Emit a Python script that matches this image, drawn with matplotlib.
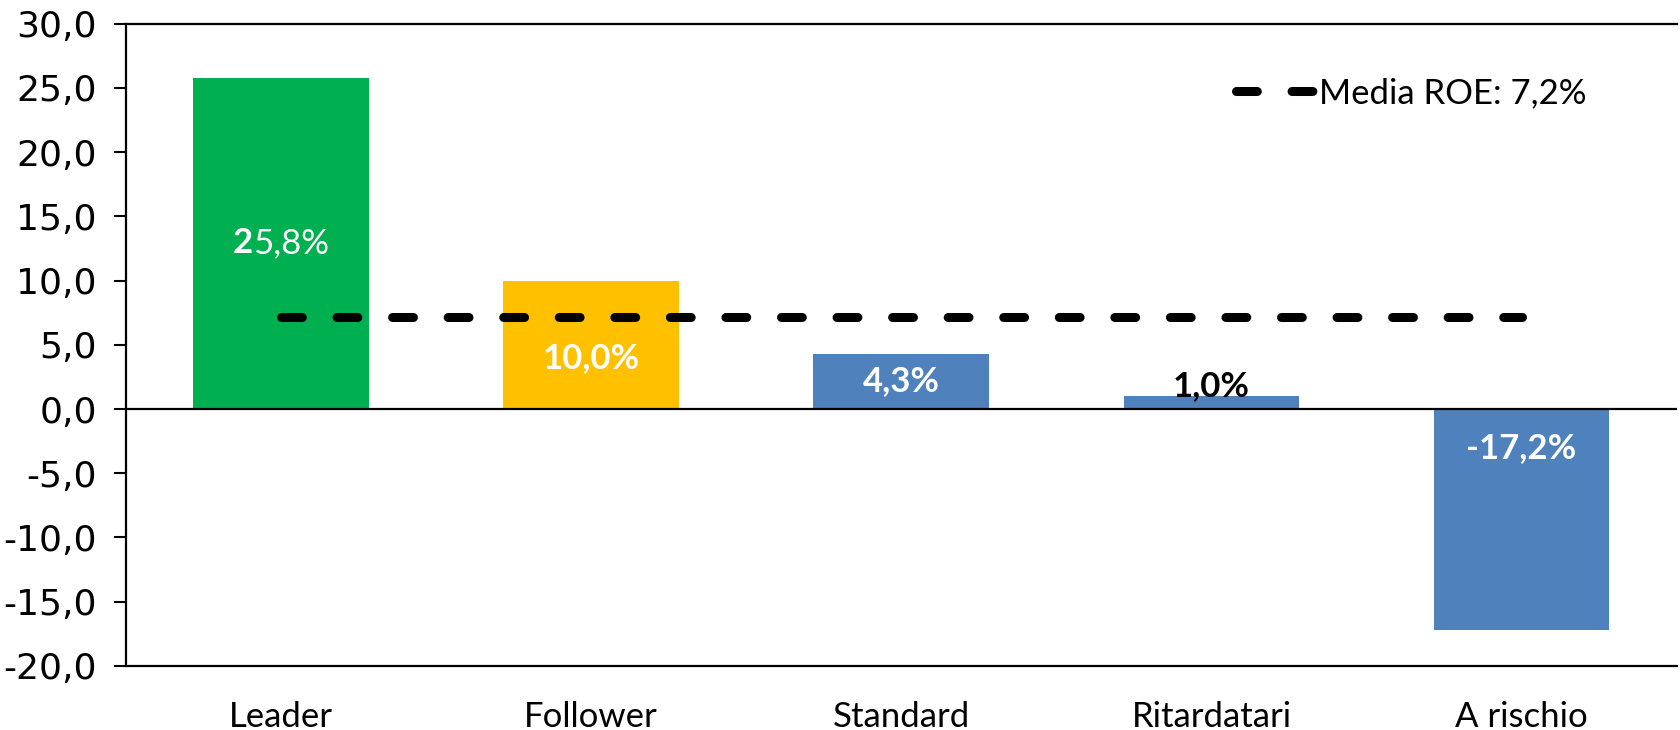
import matplotlib
matplotlib.use("Agg")
import matplotlib.pyplot as plt
from matplotlib.offsetbox import TextArea, HPacker, AnnotationBbox

# ROE per cluster di imprese (%)
categories = ["Leader", "Follower", "Standard", "Ritardatari", "A rischio"]
roe_values = [25.8, 10.0, 4.3, 1.0, -17.2]
bar_colors = ["#00B050", "#FFC000", "#4F81BD", "#4F81BD", "#4F81BD"]
media_roe = 7.2
y_ticks = [-20, -15, -10, -5, 0, 5, 10, 15, 20, 25, 30]

label_font = ["Lato", "DejaVu Sans"]
tick_font = ["DejaVu Sans"]
FS = 25


def fmt_it(v, decimals=1):
    return f"{v:.{decimals}f}".replace(".", ",")


fig = plt.figure(figsize=(16.8, 7.3), dpi=100)
ax = fig.add_axes([0.075, 0.0877, 0.923, 0.88])

x = list(range(len(categories)))
ax.bar(x, roe_values, width=0.567, color=bar_colors, zorder=2)

# zero line
ax.axhline(0, color="black", lw=1.6, zorder=3)

# average ROE dashed line
lw_avg = 6.5
line, = ax.plot([x[0], x[-1]], [media_roe, media_roe], color="black", lw=lw_avg,
                dash_capstyle="round", zorder=4,
                label=f"Media ROE: {fmt_it(media_roe)}%")
line.set_dashes((15 / lw_avg, 25 / lw_avg))

ax.set_xlim(-0.5, len(categories) - 0.5)
ax.set_ylim(-20, 30)
ax.set_yticks(y_ticks)
ax.set_yticklabels([fmt_it(t) for t in y_ticks], fontfamily=tick_font, fontsize=26)
ax.set_xticks(x)
ax.set_xticklabels(categories, fontfamily=label_font, fontsize=FS)
ax.tick_params(axis="x", length=0, pad=25)
ax.tick_params(axis="y", direction="out", length=9, width=1.5, pad=12)

for side in ("left", "top", "bottom"):
    ax.spines[side].set_linewidth(1.6)
ax.spines["right"].set_visible(False)

# value labels
for i, v in enumerate(roe_values):
    txt = f"{fmt_it(v)}%"
    if i == 0:
        # first digit set in bold, rest in regular weight
        parts = HPacker(children=[
            TextArea(txt[0], textprops=dict(color="white", fontsize=FS,
                                            fontweight="bold", family=label_font)),
            TextArea(txt[1:], textprops=dict(color="white", fontsize=FS,
                                             family=label_font)),
        ], align="baseline", pad=0, sep=0)
        ab = AnnotationBbox(parts, (i, v / 2), frameon=False, box_alignment=(0.5, 0.5),
                            zorder=5)
        ax.add_artist(ab)
    elif v >= 0 and v < 2:
        ax.text(i, v + 0.75, txt, ha="center", va="center", color="black",
                fontsize=FS, fontweight="bold", family=label_font, zorder=5)
    elif v < 0:
        ax.text(i, -3.0, txt, ha="center", va="center", color="white",
                fontsize=FS, fontweight="bold", family=label_font, zorder=5)
    elif i == 1:
        ax.text(i, v * 0.4, txt, ha="center", va="center", color="white",
                fontsize=FS, fontweight="bold", family=label_font, zorder=5)
    else:
        ax.text(i, v / 2, txt, ha="center", va="center", color="white",
                fontsize=FS, fontweight="bold", family=label_font, zorder=5)

leg = ax.legend(loc="upper right", bbox_to_anchor=(0.962, 0.965), frameon=False,
                prop={"family": label_font, "size": FS}, handlelength=2.3,
                handletextpad=0.1)

fig.savefig("out.png", dpi=100)
